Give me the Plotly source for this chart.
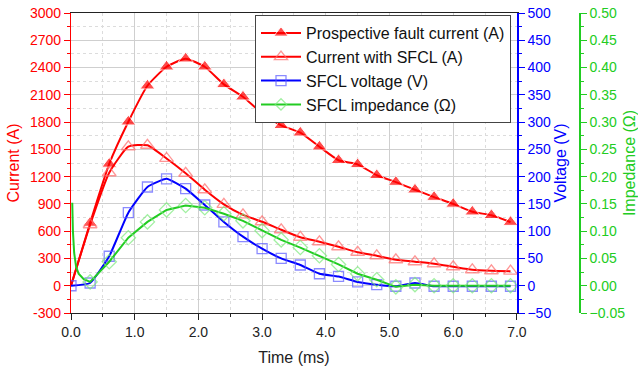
import plotly.graph_objects as go

# ---- data ----
time_ms = [0.0, 0.3, 0.6, 0.9, 1.2, 1.5, 1.8, 2.1, 2.4, 2.7, 3.0, 3.3, 3.6, 3.9,
           4.2, 4.5, 4.8, 5.1, 5.4, 5.7, 6.0, 6.3, 6.6, 6.9]
prospective_A = [0, 690, 1340, 1804, 2200, 2409, 2497, 2409, 2215, 2079, 1895, 1765,
                 1683, 1529, 1380, 1335, 1215, 1140, 1056, 975, 900, 814, 775, 700]
sfcl_current_A = [0, 671, 1243, 1529, 1545, 1400, 1237, 1056, 895, 780, 704, 616,
                  533, 484, 429, 368, 330, 286, 264, 242, 209, 176, 165, 160]
sfcl_voltage_V = [0, 5, 54, 134, 181, 196, 178, 148, 117, 90, 68, 50,
                  38, 22, 17, 7, 2, -1, 5, -1, -1, -1, -1, -1]
imp_time_ms = [0.02, 0.03, 0.05, 0.08, 0.12, 0.2, 0.3, 0.6, 0.9, 1.2, 1.5, 1.8, 2.1,
               2.4, 2.7, 3.0, 3.3, 3.6, 3.9, 4.2, 4.5, 4.8, 5.1, 5.4, 5.7, 6.0,
               6.3, 6.6, 6.9]
sfcl_impedance_ohm = [0.152, 0.10, 0.06, 0.035, 0.022, 0.012, 0.007, 0.044, 0.088,
                      0.117, 0.139, 0.147, 0.143, 0.132, 0.119, 0.101, 0.084, 0.070,
                      0.055, 0.039, 0.022, 0.011, -0.002, 0.002, 0.0, 0.0, 0.0, 0.0, 0.0]

names = ["Prospective fault current (A)", "Current with SFCL (A)",
         "SFCL voltage (V)", "SFCL impedance (\u03a9)"]

left_ticks = [-300, 0, 300, 600, 900, 1200, 1500, 1800, 2100, 2400, 2700, 3000]
left_labels = ["-300", "0", "300", "600", "900", "1200", "1500", "1800", "2100",
               "2400", "2700", "3000"]

RED = "#ff0000"
BLUE = "#0000ff"
GREEN = "#22cc22"
FONT = "Liberation Sans, Arial, sans-serif"

tri_sizes = [0] + [13] * (len(time_ms) - 1)
otri_sizes = [0] + [12] * (len(time_ms) - 1)
sq_sizes = [10] * len(time_ms)
dia_sizes = [0] * 6 + [11] * (len(imp_time_ms) - 6)

fig = go.Figure()
fig.add_trace(go.Scatter(
    x=time_ms, y=prospective_A, name=names[0], mode="lines+markers",
    line=dict(color=RED, width=2, shape="spline", smoothing=0.5),
    marker=dict(symbol="triangle-up", size=tri_sizes, color=RED)))
fig.add_trace(go.Scatter(
    x=time_ms, y=sfcl_current_A, name=names[1], mode="lines+markers",
    line=dict(color=RED, width=2, shape="spline", smoothing=0.5),
    marker=dict(symbol="triangle-up-open", size=otri_sizes, color="#ff6a6a",
                line=dict(width=1.3))))
fig.add_trace(go.Scatter(
    x=time_ms, y=sfcl_voltage_V, name=names[2], mode="lines+markers", yaxis="y2",
    line=dict(color=BLUE, width=2, shape="spline", smoothing=0.4),
    marker=dict(symbol="square-open", size=sq_sizes, color="#5a5aff",
                line=dict(width=1.3))))
fig.add_trace(go.Scatter(
    x=imp_time_ms, y=sfcl_impedance_ohm, name=names[3], mode="lines+markers", yaxis="y3",
    line=dict(color=GREEN, width=2),
    marker=dict(symbol="diamond-open", size=dia_sizes, color="#7aea7a",
                line=dict(width=1.3))))

fig.update_layout(
    width=638, height=370,
    margin=dict(l=71, r=58, t=13, b=57),
    paper_bgcolor="white", plot_bgcolor="white",
    font=dict(family=FONT, size=14, color="#222"),
    showlegend=True,
    hovermode=False,
    legend=dict(x=0.3615, y=0.993, xanchor="left", yanchor="top",
                bgcolor="white", bordercolor="#444", borderwidth=1,
                font=dict(family=FONT, size=16, color="#111"),
                tracegroupgap=0, itemwidth=40),
    xaxis=dict(domain=[0, 0.876], range=[0, 7], tickvals=[0, 1, 2, 3, 4, 5, 6, 7],
               ticktext=["0.0", "1.0", "2.0", "3.0", "4.0", "5.0", "6.0", "7.0"],
               automargin=False,
               showline=True, linecolor="#222", linewidth=1.2, mirror=True,
               ticks="outside", ticklen=6, tickcolor="#222",
               tickfont=dict(family=FONT, size=14, color="#222"),
               showgrid=True, gridcolor="#cfcfcf", gridwidth=1,
               minor=dict(dtick=0.5, tick0=0, ticks="outside", ticklen=3,
                          tickcolor="#222", showgrid=True, gridcolor="#dcdcdc",
                          griddash="dot"),
               zeroline=False,
               title=dict(text="Time (ms)", font=dict(family=FONT, size=16, color="#222"),
                          standoff=12)),
    yaxis=dict(range=[-300, 3000], tickvals=left_ticks, ticktext=left_labels,
               automargin=False,
               showline=True, linecolor=RED, linewidth=1.2,
               ticks="outside", ticklen=6, tickcolor=RED,
               tickfont=dict(family=FONT, size=14, color=RED),
               showgrid=True, gridcolor="#cfcfcf", gridwidth=1,
               minor=dict(dtick=150, tick0=0, ticks="outside", ticklen=3,
                          tickcolor=RED, showgrid=True, gridcolor="#dcdcdc",
                          griddash="dot"),
               zeroline=False,
               title=dict(text="Current (A)", font=dict(family=FONT, size=16, color=RED),
                          standoff=6)),
    yaxis2=dict(range=[-50, 500], dtick=50, tick0=0, overlaying="y", side="right",
                anchor="x", automargin=False,
                showline=True, linecolor=BLUE, linewidth=1.5,
                ticks="outside", ticklen=6, tickcolor=BLUE,
                tickfont=dict(family=FONT, size=14, color=BLUE),
                showgrid=False, zeroline=False,
                minor=dict(dtick=25, tick0=0, ticks="outside", ticklen=3, tickcolor=BLUE),
                title=dict(text="Voltage (V)", font=dict(family=FONT, size=16, color=BLUE),
                           standoff=4)),
    yaxis3=dict(range=[-0.05, 0.5], dtick=0.05, tick0=0, tickformat=".2f",
                overlaying="y", side="right", anchor="free", position=1.0,
                automargin=False,
                showline=True, linecolor=GREEN, linewidth=1.5,
                ticks="outside", ticklen=6, tickcolor=GREEN,
                tickfont=dict(family=FONT, size=14, color=GREEN),
                showgrid=False, zeroline=False,
                minor=dict(dtick=0.025, tick0=0, ticks="outside", ticklen=3, tickcolor=GREEN),
                title=dict(text="Impedance (\u03a9)", font=dict(family=FONT, size=16, color=GREEN),
                           standoff=4)),
)

fig.write_html("out.html")
